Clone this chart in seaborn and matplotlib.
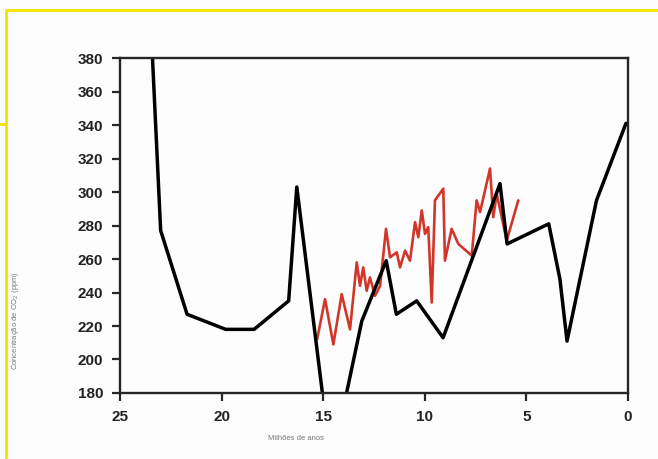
"""Recreate the CO2 concentration vs. millions of years chart."""

import matplotlib
matplotlib.use("Agg")
import matplotlib.pyplot as plt
from matplotlib.lines import Line2D
import pandas as pd
import seaborn as sns

# Black curve (long-term record)
black_age = [23.5, 23.0, 21.7, 19.8, 18.4, 16.7, 16.3, 14.6, 13.1, 11.9, 11.4,
             10.4, 9.1, 6.3, 5.95, 3.9, 3.35, 3.0, 1.55, 0.1]
black_co2 = [405, 277, 227, 218, 218, 235, 303, 137, 223, 259, 227,
             235, 213, 305, 269, 281, 248, 211, 295, 341]

# Red curve (high-resolution record)
red_age = [15.3, 14.91, 14.5, 14.09, 13.68, 13.35, 13.19, 13.03, 12.86, 12.70,
           12.45, 12.20, 11.91, 11.71, 11.38, 11.22, 10.97, 10.73, 10.48, 10.32,
           10.15, 9.99, 9.83, 9.66, 9.50, 9.09, 9.01, 8.68, 8.35, 7.69,
           7.45, 7.28, 6.79, 6.63, 6.46, 5.97, 5.40]
red_co2 = [212, 236, 209, 239, 218, 258, 244, 255, 241, 249,
           238, 244, 278, 261, 264, 255, 265, 259, 282, 273,
           289, 275, 279, 234, 295, 302, 259, 278, 269, 262,
           295, 288, 314, 285, 299, 271, 295]

x_ticks = [25, 20, 15, 10, 5, 0]
y_ticks = [180, 200, 220, 240, 260, 280, 300, 320, 340, 360, 380]

sns.set_style("ticks")
plt.rcParams["font.family"] = ["Liberation Sans", "DejaVu Sans"]

black_df = pd.DataFrame({"age": black_age, "co2": black_co2})
red_df = pd.DataFrame({"age": red_age, "co2": red_co2})

fig = plt.figure(figsize=(6.58, 4.59), dpi=100)
fig.patch.set_facecolor("#fdfdfd")
ax = fig.add_axes([0.1824, 0.1438, 0.772, 0.7298])
ax.set_facecolor("#fdfdfd")

sns.lineplot(data=red_df, x="age", y="co2", sort=False, ax=ax,
             color="#d2362a", linewidth=1.9, solid_joinstyle="round")
sns.lineplot(data=black_df, x="age", y="co2", sort=False, ax=ax,
             color="black", linewidth=2.5, solid_joinstyle="round")

ax.set_xlim(25, 0)
ax.set_ylim(180, 380)
ax.set_xticks(x_ticks)
ax.set_yticks(y_ticks)
ax.tick_params(direction="out", length=6, width=1.6, labelsize=11, pad=6)
for lab in ax.get_xticklabels() + ax.get_yticklabels():
    lab.set_fontweight("bold")
    lab.set_color("#222222")
for spine in ax.spines.values():
    spine.set_visible(True)
    spine.set_linewidth(1.7)

ax.set_xlabel("Milhões de anos", fontsize=5.5, color="#777777")
ax.xaxis.set_label_coords(0.346, -0.125)
ax.set_ylabel("Concentração de CO$_2$ (ppm)", fontsize=5.5, color="#777777")
ax.yaxis.set_label_coords(-0.195, 0.215)

# yellow frame from the source screenshot
yellow = "#f3e400"
fig.add_artist(Line2D([6 / 658, 1.0], [1 - 10 / 459, 1 - 10 / 459],
                      color=yellow, linewidth=2, transform=fig.transFigure))
fig.add_artist(Line2D([6 / 658, 6 / 658], [1 - 10 / 459, 1 - 458 / 459],
                      color=yellow, linewidth=2, transform=fig.transFigure))
fig.add_artist(Line2D([0, 6 / 658], [1 - 124 / 459, 1 - 124 / 459],
                      color=yellow, linewidth=2, transform=fig.transFigure))

fig.savefig("out.png", dpi=100, facecolor=fig.get_facecolor())
